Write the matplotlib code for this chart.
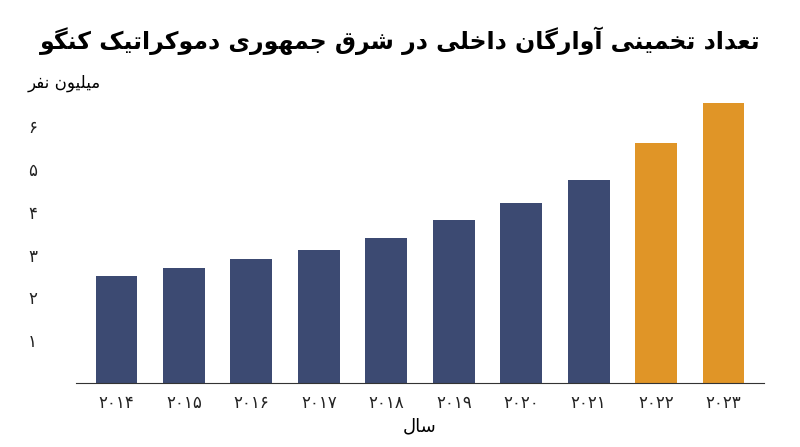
import matplotlib
matplotlib.use("Agg")
import matplotlib.pyplot as plt

# presentation forms: isolated, final, initial, medial
FORMS = {
    'ا': ('\uFE8D', '\uFE8E'), 'آ': ('\uFE81', '\uFE82'),
    'د': ('\uFEA9', '\uFEAA'), 'ر': ('\uFEAD', '\uFEAE'), 'و': ('\uFEED', '\uFEEE'),
    'ت': ('\uFE95', '\uFE96', '\uFE97', '\uFE98'),
    'ج': ('\uFE9D', '\uFE9E', '\uFE9F', '\uFEA0'),
    'خ': ('\uFEA5', '\uFEA6', '\uFEA7', '\uFEA8'),
    'س': ('\uFEB1', '\uFEB2', '\uFEB3', '\uFEB4'),
    'ش': ('\uFEB5', '\uFEB6', '\uFEB7', '\uFEB8'),
    'ع': ('\uFEC9', '\uFECA', '\uFECB', '\uFECC'),
    'ف': ('\uFED1', '\uFED2', '\uFED3', '\uFED4'),
    'ق': ('\uFED5', '\uFED6', '\uFED7', '\uFED8'),
    'ل': ('\uFEDD', '\uFEDE', '\uFEDF', '\uFEE0'),
    'م': ('\uFEE1', '\uFEE2', '\uFEE3', '\uFEE4'),
    'ن': ('\uFEE5', '\uFEE6', '\uFEE7', '\uFEE8'),
    'ه': ('\uFEE9', '\uFEEA', '\uFEEB', '\uFEEC'),
    'ی': ('\uFBFC', '\uFBFD', '\uFBFE', '\uFBFF'),
    'ک': ('\uFB8E', '\uFB8F', '\uFB90', '\uFB91'),
    'گ': ('\uFB92', '\uFB93', '\uFB94', '\uFB95'),
}


def fa(text):
    out = []
    for i, c in enumerate(text):
        if c not in FORMS:
            out.append(c)
            continue
        prev = text[i - 1] if i > 0 else ''
        nxt = text[i + 1] if i + 1 < len(text) else ''
        jp = prev in FORMS and len(FORMS[prev]) == 4
        jn = len(FORMS[c]) == 4 and nxt in FORMS
        f = FORMS[c]
        if jp and jn:
            out.append(f[3])
        elif jp:
            out.append(f[1])
        elif jn:
            out.append(f[2])
        else:
            out.append(f[0])
    return ''.join(out)[::-1]


def fa_digits(s):
    return s.translate(str.maketrans('0123456789', '۰۱۲۳۴۵۶۷۸۹'))


years = ['2014', '2015', '2016', '2017', '2018', '2019', '2020', '2021', '2022', '2023']
values = [2.5, 2.7, 2.9, 3.1, 3.4, 3.8, 4.2, 4.75, 5.6, 6.55]
colors = ['#3c4a72'] * 8 + ['#e09527'] * 2

plt.rcParams['font.family'] = ['DejaVu Sans']
fig = plt.figure(figsize=(8, 4.47), dpi=100)
ax = fig.add_axes([0.095, 0.143, 0.86, 0.651])
x = range(len(years))
ax.bar(x, values, width=0.62, color=colors)
ax.set_xlim(-0.6, len(years) - 0.4)
ax.set_ylim(0, 6.8)
ax.set_xticks(list(x))
ax.set_xticklabels([fa_digits(y) for y in years], fontsize=12, color='#222222')
ax.set_yticks([1, 2, 3, 4, 5, 6])
ax.set_yticklabels([fa_digits(str(v)) for v in [1, 2, 3, 4, 5, 6]], fontsize=12, color='#222222')
for s in ['top', 'right', 'left']:
    ax.spines[s].set_visible(False)
ax.spines['bottom'].set_color('#333333')
ax.tick_params(axis='y', length=0, pad=28)
ax.tick_params(axis='x', length=0, pad=8)
ax.set_xlabel(fa('سال'), fontsize=13, labelpad=4)
fig.text(0.035, 0.795, fa('میلیون نفر'), fontsize=12, ha='left', va='bottom')
fig.text(0.5, 0.91, fa('تعداد تخمینی آوارگان داخلی در شرق جمهوری دموکراتیک کنگو'),
         fontsize=17, fontweight='bold', ha='center', va='center')
fig.savefig('out.png', dpi=100)
